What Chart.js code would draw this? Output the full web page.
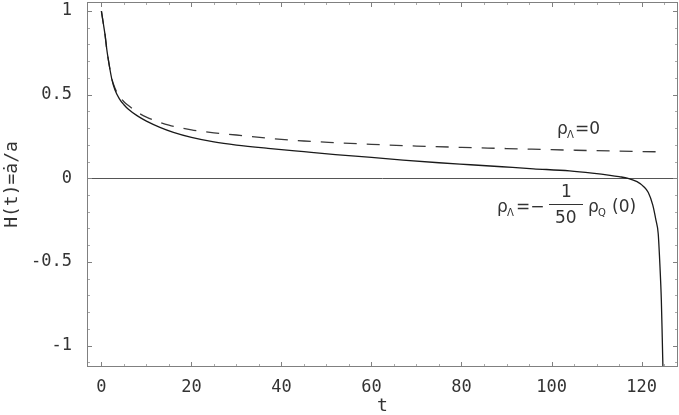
<!DOCTYPE html>
<html>
<head>
<meta charset="utf-8">
<script src="https://cdn.jsdelivr.net/npm/chart.js@4/dist/chart.umd.min.js"></script>
<style>
  html, body { margin: 0; padding: 0; background: #fff; }
  #wrap { width: 679px; height: 415px; }
</style>
</head>
<body>
<div id="wrap"><canvas id="hubble"></canvas></div>
<script>
// courbe pleine : rho_Lambda = -1/50 rho_Q(0)
const tSolid = [0, 0.4, 0.8, 1.2, 1.8, 2.3, 3, 4, 5, 6, 8, 10, 13, 16, 20, 25, 30, 37, 45, 52, 60, 67, 75, 82, 89, 96, 104, 109, 113, 115, 117, 119, 120.5, 121.5, 122.5, 123.2, 123.7, 124.1, 124.4, 124.6, 124.75];
const hSolid = [1.0, 0.93, 0.86, 0.77, 0.667, 0.595, 0.53, 0.475, 0.44, 0.413, 0.373, 0.342, 0.305, 0.275, 0.245, 0.218, 0.199, 0.179, 0.159, 0.142, 0.125, 0.109, 0.093, 0.081, 0.069, 0.057, 0.044, 0.031, 0.018, 0.010, 0.0, -0.02, -0.05, -0.085, -0.16, -0.25, -0.33, -0.53, -0.73, -0.95, -1.13];

// courbe pointillée : rho_Lambda = 0
const tDashed = [0, 0.4, 0.8, 1.2, 1.8, 2.3, 3, 4, 5, 6, 8, 10, 15, 20, 25, 30, 37, 45, 52, 60, 70, 80, 90, 100, 110, 118, 124.8];
const hDashed = [1.0, 0.93, 0.86, 0.77, 0.667, 0.597, 0.54, 0.49, 0.458, 0.435, 0.395, 0.366, 0.318, 0.29, 0.272, 0.259, 0.24, 0.223, 0.213, 0.203, 0.193, 0.185, 0.178, 0.171, 0.165, 0.161, 0.158];

const xTicks = [0, 20, 40, 60, 80, 100, 120];
const yTicks = [-1, -0.5, 0, 0.5, 1];
const yTickLabels = ['-1', '-0.5', '0', '0.5', '1'];
const xMinor = [5, 10, 15, 25, 30, 35, 45, 50, 55, 65, 70, 75, 85, 90, 95, 105, 110, 115, 125];
const yMinor = [-1.1, -0.9, -0.8, -0.7, -0.6, -0.4, -0.3, -0.2, -0.1, 0.1, 0.2, 0.3, 0.4, 0.6, 0.7, 0.8, 0.9];

const toPoints = (xs, ys) => xs.map((x, i) => ({ x: x, y: ys[i] }));

const monoFont = '"DejaVu Sans Mono", monospace';

// Cadre + graduations vers l'intérieur (style Mathematica)
const framePlugin = {
    id: 'frame',
    beforeDatasetsDraw(chart) {
        const { ctx, chartArea: a, scales: { y } } = chart;
        const y0 = y.getPixelForValue(0);
        ctx.save();
        ctx.strokeStyle = '#555';
        ctx.lineWidth = 1;
        ctx.beginPath();
        ctx.moveTo(a.left, Math.round(y0) + 0.5);
        ctx.lineTo(a.right, Math.round(y0) + 0.5);
        ctx.stroke();
        ctx.restore();
    },
    afterDatasetsDraw(chart) {
        const { ctx, chartArea: a, scales: { x, y } } = chart;
        ctx.save();
        ctx.lineWidth = 1;
        const tick = (color, len, xs, ys) => {
            ctx.strokeStyle = color;
            ctx.beginPath();
            xs.forEach(v => {
                const px = Math.round(x.getPixelForValue(v)) + 0.5;
                ctx.moveTo(px, a.bottom); ctx.lineTo(px, a.bottom - len);
                ctx.moveTo(px, a.top); ctx.lineTo(px, a.top + len);
            });
            ys.forEach(v => {
                const py = Math.round(y.getPixelForValue(v)) + 0.5;
                ctx.moveTo(a.left, py); ctx.lineTo(a.left + len, py);
                ctx.moveTo(a.right, py); ctx.lineTo(a.right - len, py);
            });
            ctx.stroke();
        };
        tick('#aaa', 3, xMinor, yMinor);
        tick('#808080', 5, xTicks, yTicks);

        ctx.strokeStyle = '#808080';
        ctx.strokeRect(Math.round(a.left) + 0.5, Math.round(a.top) + 0.5,
            Math.round(a.right - a.left) - 1, Math.round(a.bottom - a.top) - 1);

        // étiquettes des courbes
        ctx.fillStyle = '#333';
        ctx.textBaseline = 'alphabetic';
        ctx.font = '17px "DejaVu Sans"';
        ctx.fillText('ρ', 557, 134);
        ctx.font = '10px "DejaVu Sans"';
        ctx.fillText('Λ', 567, 138);
        ctx.font = '17px "DejaVu Sans"';
        ctx.fillText('=0', 575, 134);

        ctx.fillText('ρ', 497, 212);
        ctx.font = '10px "DejaVu Sans"';
        ctx.fillText('Λ', 507, 216);
        ctx.font = '17px "DejaVu Sans"';
        ctx.fillText('=−', 516, 212);
        ctx.fillText('1', 561, 197);
        ctx.fillText('50', 555, 223);
        ctx.fillRect(549, 204, 34, 1);
        ctx.fillText('ρ', 588, 212);
        ctx.font = '10px "DejaVu Sans"';
        ctx.fillText('Q', 598, 216);
        ctx.font = '17px "DejaVu Sans"';
        ctx.fillText('(0)', 612, 212);
        ctx.restore();
    }
};

const ctx = document.getElementById('hubble').getContext('2d');
new Chart(ctx, {
    type: 'line',
    data: {
        datasets: [{
            label: 'rhoLambda = -1/50 rhoQ(0)',
            data: toPoints(tSolid, hSolid),
            borderColor: '#1a1a1a',
            borderWidth: 1.3,
            pointRadius: 0,
            cubicInterpolationMode: 'monotone',
            fill: false
        }, {
            label: 'rhoLambda = 0',
            data: toPoints(tDashed, hDashed),
            borderColor: '#3a3a3a',
            borderWidth: 1.3,
            borderDash: [13, 10],
            pointRadius: 0,
            cubicInterpolationMode: 'monotone',
            fill: false
        }]
    },
    plugins: [framePlugin],
    options: {
        responsive: true,
        maintainAspectRatio: false,
        animation: false,
        layout: { padding: { top: 2, right: 1, left: 0, bottom: 0 } },
        plugins: { legend: { display: false }, tooltip: { enabled: false } },
        scales: {
            x: {
                type: 'linear',
                min: -3.2,
                max: 128.1,
                grid: { display: false },
                border: { display: false },
                afterBuildTicks: s => { s.ticks = xTicks.map(v => ({ value: v })); },
                afterFit: s => { s.height = 48; s.paddingLeft = 0; s.paddingRight = 0; },
                ticks: { color: '#333', font: { family: monoFont, size: 17 }, padding: 2, maxRotation: 0 },
                title: { display: true, text: 't', color: '#333', font: { family: monoFont, size: 18 }, padding: { top: 0, bottom: -2 } }
            },
            y: {
                type: 'linear',
                min: -1.128,
                max: 1.054,
                grid: { display: false },
                border: { display: false },
                afterBuildTicks: s => { s.ticks = yTicks.map(v => ({ value: v })); },
                afterFit: s => { s.width = 87; s.paddingTop = 0; s.paddingBottom = 0; },
                ticks: {
                    color: '#333',
                    font: { family: monoFont, size: 17 },
                    padding: 7,
                    callback: (v) => yTickLabels[yTicks.indexOf(v)]
                },
                title: { display: true, text: 'H(t)=ȧ/a', color: '#333', font: { family: monoFont, size: 18 }, padding: { top: 2, bottom: 0 } }
            }
        }
    }
});
</script>
</body>
</html>
